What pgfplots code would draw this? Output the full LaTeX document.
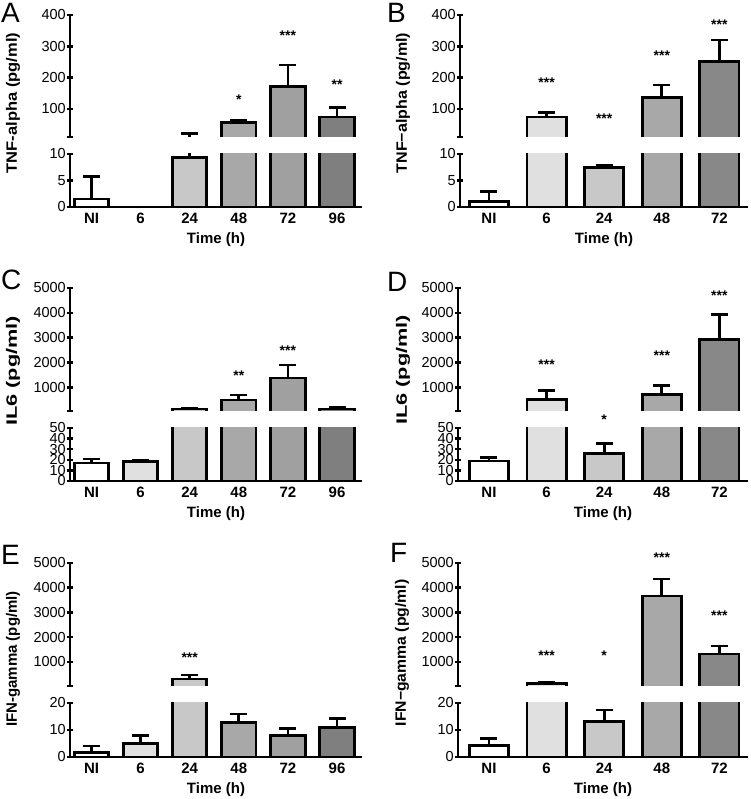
\documentclass[border=0pt]{standalone}
\usepackage{pgfplots}
\pgfplotsset{compat=1.18}
\usepackage{fontspec}
\setmainfont{Liberation Sans}
\newcommand\tk{\fontsize{14.5}{15}\selectfont}
\newcommand\xtk{\fontsize{15}{16}\selectfont\bfseries}
\newcommand\lett{\fontsize{28}{30}\selectfont}
\definecolor{c6}{HTML}{E0E0E0}
\definecolor{c24}{HTML}{C8C8C8}
\definecolor{c48}{HTML}{A8A8A8}
\definecolor{c72a}{HTML}{A0A0A0}
\definecolor{c72b}{HTML}{888888}
\definecolor{c96}{HTML}{7F7F7F}
\tikzset{sigstar/.style={font=\fontsize{14}{14}\selectfont\bfseries, inner sep=0pt, yshift=-3pt}}
\pgfplotsset{
  noarrows/.style={every outer x axis line/.append style={-},every outer y axis line/.append style={-},
    every inner x axis line/.append style={-},every inner y axis line/.append style={-},
    axis line style={line width=2.9pt,-}},
  seg/.style={scale only axis, ybar, bar shift=0pt, clip mode=individual, enlargelimits=false,
    tick align=outside, major tick length=6pt,
    ytick style={line width=2.5pt,black}, yticklabel style={font=\tk, inner sep=1pt},
    error bars/y dir=plus, error bars/y explicit, error bars/error mark=|,
    error bars/error bar style={draw=black, line width=2.8pt},
    error bars/error mark options={draw=black, line width=2.8pt, mark size=8.5pt}},
  upper/.style={seg, axis x line=none, axis y line=left, xtick=\empty, noarrows},
  lower/.style={seg, axis x line=bottom, axis y line=left, noarrows, xtick style={draw=none},
    xticklabel style={font=\xtk, inner sep=3pt}, xlabel={Time (h)},
    xlabel style={font=\xtk, at={(axis description cs:0.5,0)}, anchor=center, yshift=-33pt}},
  bar/.style={draw=black, line width=2.9pt, fill=#1},
  outl/.style={sharp plot, black, line width=2.9pt, line join=miter, mark=none},
}
% upper-segment bar: x, value, error, colour, left edge, right edge, segment bottom
\newcommand\ub[7]{%
  \addplot[fill=#4, draw=none] coordinates {(#1,#2) +- (0,#3)};
  \addplot[outl] coordinates {(#5,#7) (#5,#2) (#6,#2) (#6,#7)};
}
% ---------- data (lower segments) ----------
\newcommand\dataA{
  \addplot[bar=white] coordinates {(0,1.5) +- (0,4.3)};
  \addplot[bar=c24] coordinates {(2,9.4) +- (0,10.6)};
  \addplot[bar=c48] coordinates {(3,55) +- (0,9)};
  \addplot[bar=c72a] coordinates {(4,170) +- (0,70)};
  \addplot[bar=c96] coordinates {(5,74) +- (0,29)};
}
\newcommand\dataB{
  \addplot[bar=white] coordinates {(0,1.1) +- (0,1.8)};
  \addplot[bar=c6] coordinates {(1,74) +- (0,13)};
  \addplot[bar=c24] coordinates {(2,7.4) +- (0,0.5)};
  \addplot[bar=c48] coordinates {(3,135) +- (0,41)};
  \addplot[bar=c72b] coordinates {(4,250) +- (0,70)};
}
\newcommand\dataC{
  \addplot[bar=white] coordinates {(0,17) +- (0,3.8)};
  \addplot[bar=c6] coordinates {(1,18) +- (0,1.8)};
  \addplot[bar=c24] coordinates {(2,130) +- (0,27)};
  \addplot[bar=c48] coordinates {(3,493) +- (0,200)};
  \addplot[bar=c72a] coordinates {(4,1378) +- (0,523)};
  \addplot[bar=c96] coordinates {(5,130) +- (0,70)};
}
\newcommand\dataD{
  \addplot[bar=white] coordinates {(0,18.9) +- (0,3.5)};
  \addplot[bar=c6] coordinates {(1,521) +- (0,347)};
  \addplot[bar=c24] coordinates {(2,26) +- (0,9.5)};
  \addplot[bar=c48] coordinates {(3,721) +- (0,347)};
  \addplot[bar=c72b] coordinates {(4,2935) +- (0,1007)};
}
\newcommand\dataE{
  \addplot[bar=white] coordinates {(0,1.6) +- (0,2.5)};
  \addplot[bar=c6] coordinates {(1,5.1) +- (0,3)};
  \addplot[bar=c24] coordinates {(2,303) +- (0,162)};
  \addplot[bar=c48] coordinates {(3,12.7) +- (0,3.2)};
  \addplot[bar=c72a] coordinates {(4,7.8) +- (0,2.8)};
  \addplot[bar=c96] coordinates {(5,11) +- (0,3.3)};
}
\newcommand\dataF{
  \addplot[bar=white] coordinates {(0,4.1) +- (0,2.8)};
  \addplot[bar=c6] coordinates {(1,110) +- (0,60)};
  \addplot[bar=c24] coordinates {(2,13.1) +- (0,4.3)};
  \addplot[bar=c48] coordinates {(3,3664) +- (0,688)};
  \addplot[bar=c72b] coordinates {(4,1316) +- (0,323)};
}
\begin{document}
\begin{tikzpicture}[x=1pt,y=1pt]
\path[use as bounding box] (0pt,0pt) rectangle (750pt,799pt);
% ================= A =================
\begin{axis}[upper, at={(70pt,662pt)}, anchor=south west, width=292pt, height=122pt,
  xmin=-0.438, xmax=5.509, bar width=0.70, ymin=10, ymax=400,
  ytick={10,100,200,300,400}, yticklabels={{},100,200,300,400}]
  \addplot[outl] coordinates {(2,10) (2,20)};
  \addplot[outl] coordinates {(1.827,20) (2.173,20)};
  \ub{3}{55}{9}{c48}{2.65}{3.35}{10}
  \ub{4}{170}{70}{c72a}{3.65}{4.35}{10}
  \ub{5}{74}{29}{c96}{4.65}{5.35}{10}
  \node[sigstar] at (axis cs:3,138) {*};
  \node[sigstar] at (axis cs:4,342) {***};
  \node[sigstar] at (axis cs:5,186) {**};
\end{axis}
\begin{axis}[lower, at={(70pt,592pt)}, anchor=south west, width=292pt, height=53pt,
  xmin=-0.438, xmax=5.509, bar width=0.70, ymin=0, ymax=10,
  ytick={0,5,10}, yticklabels={0,5,10},
  xtick={0,...,5}, xticklabels={NI,6,24,48,72,96}]
  \dataA
\end{axis}
% ================= B =================
\begin{axis}[upper, at={(460pt,662pt)}, anchor=south west, width=288pt, height=122pt,
  xmin=-0.503, xmax=4.497, bar width=0.68, ymin=10, ymax=400,
  ytick={10,100,200,300,400}, yticklabels={{},100,200,300,400}]
  \ub{1}{74}{13}{c6}{0.66}{1.34}{10}
  \ub{3}{135}{41}{c48}{2.66}{3.34}{10}
  \ub{4}{250}{70}{c72b}{3.66}{4.34}{10}
  \node[sigstar] at (axis cs:1,192) {***};
  \node[sigstar] at (axis cs:2,77) {***};
  \node[sigstar] at (axis cs:3,279) {***};
  \node[sigstar] at (axis cs:4,378) {***};
\end{axis}
\begin{axis}[lower, at={(460pt,592pt)}, anchor=south west, width=288pt, height=53pt,
  xmin=-0.503, xmax=4.497, bar width=0.68, ymin=0, ymax=10,
  ytick={0,5,10}, yticklabels={0,5,10},
  xtick={0,...,4}, xticklabels={NI,6,24,48,72}]
  \dataB
\end{axis}
% ================= C =================
\begin{axis}[upper, at={(70pt,388pt)}, anchor=south west, width=292pt, height=123pt,
  xmin=-0.438, xmax=5.509, bar width=0.70, ymin=50, ymax=5000,
  ytick={50,1000,2000,3000,4000,5000}, yticklabels={{},1000,2000,3000,4000,5000}]
  \ub{2}{130}{27}{c24}{1.65}{2.35}{50}
  \ub{3}{493}{200}{c48}{2.65}{3.35}{50}
  \ub{4}{1378}{523}{c72a}{3.65}{4.35}{50}
  \ub{5}{130}{70}{c96}{4.65}{5.35}{50}
  \node[sigstar] at (axis cs:3,1579) {**};
  \node[sigstar] at (axis cs:4,2585) {***};
\end{axis}
\begin{axis}[lower, at={(70pt,318pt)}, anchor=south west, width=292pt, height=53pt,
  xmin=-0.438, xmax=5.509, bar width=0.70, ymin=0, ymax=50,
  ytick={0,10,20,30,40,50}, yticklabels={0,10,20,30,40,50},
  xtick={0,...,5}, xticklabels={NI,6,24,48,72,96}]
  \dataC
\end{axis}
% ================= D =================
\begin{axis}[upper, at={(458pt,388pt)}, anchor=south west, width=290pt, height=123pt,
  xmin=-0.538, xmax=4.497, bar width=0.68, ymin=50, ymax=5000,
  ytick={50,1000,2000,3000,4000,5000}, yticklabels={{},1000,2000,3000,4000,5000}]
  \ub{1}{521}{347}{c6}{0.66}{1.34}{50}
  \ub{3}{721}{347}{c48}{2.66}{3.34}{50}
  \ub{4}{2935}{1007}{c72b}{3.66}{4.34}{50}
  \node[sigstar] at (axis cs:1,2022) {***};
  \node[sigstar] at (axis cs:2,-191) {*};
  \node[sigstar] at (axis cs:3,2384) {***};
  \node[sigstar] at (axis cs:4,4799) {***};
\end{axis}
\begin{axis}[lower, at={(458pt,318pt)}, anchor=south west, width=290pt, height=53pt,
  xmin=-0.538, xmax=4.497, bar width=0.68, ymin=0, ymax=50,
  ytick={0,10,20,30,40,50}, yticklabels={0,10,20,30,40,50},
  xtick={0,...,4}, xticklabels={NI,6,24,48,72}]
  \dataD
\end{axis}
% ================= E =================
\begin{axis}[upper, at={(70pt,113pt)}, anchor=south west, width=292pt, height=123pt,
  xmin=-0.438, xmax=5.509, bar width=0.70, ymin=20, ymax=5000,
  ytick={20,1000,2000,3000,4000,5000}, yticklabels={{},1000,2000,3000,4000,5000}]
  \ub{2}{303}{162}{c24}{1.65}{2.35}{20}
  \node[sigstar] at (axis cs:2,1275) {***};
\end{axis}
\begin{axis}[lower, at={(70pt,42pt)}, anchor=south west, width=292pt, height=54pt,
  xmin=-0.438, xmax=5.509, bar width=0.70, ymin=0, ymax=20,
  ytick={0,10,20}, yticklabels={0,10,20},
  xtick={0,...,5}, xticklabels={NI,6,24,48,72,96}]
  \dataE
\end{axis}
% ================= F =================
\begin{axis}[upper, at={(458pt,113pt)}, anchor=south west, width=290pt, height=123pt,
  xmin=-0.538, xmax=4.497, bar width=0.68, ymin=20, ymax=5000,
  ytick={20,1000,2000,3000,4000,5000}, yticklabels={{},1000,2000,3000,4000,5000}]
  \ub{1}{110}{60}{c6}{0.66}{1.34}{20}
  \ub{3}{3664}{688}{c48}{2.66}{3.34}{20}
  \ub{4}{1316}{323}{c72b}{3.66}{4.34}{20}
  \node[sigstar] at (axis cs:1,1356) {***};
  \node[sigstar] at (axis cs:2,1356) {*};
  \node[sigstar] at (axis cs:3,5324) {***};
  \node[sigstar] at (axis cs:4,2976) {***};
\end{axis}
\begin{axis}[lower, at={(458pt,42pt)}, anchor=south west, width=290pt, height=54pt,
  xmin=-0.538, xmax=4.497, bar width=0.68, ymin=0, ymax=20,
  ytick={0,10,20}, yticklabels={0,10,20},
  xtick={0,...,4}, xticklabels={NI,6,24,48,72}]
  \dataF
\end{axis}
% ================= labels =================
\node[rotate=90, font=\xtk] at (13pt,696pt) {\scalebox{1.10}[1]{TNF-alpha (pg/ml)}};
\node[rotate=90, font=\xtk] at (403pt,696pt) {\scalebox{1.07}[1]{TNF−alpha (pg/ml)}};
\node[rotate=90, font=\xtk] at (13pt,428pt) {\scalebox{1.45}[1]{IL6 (pg/ml)}};
\node[rotate=90, font=\xtk] at (403pt,429pt) {\scalebox{1.45}[1]{IL6 (pg/ml)}};
\node[rotate=90, font=\xtk] at (13pt,140pt) {IFN-gamma (pg/ml)};
\node[rotate=90, font=\xtk] at (402pt,146pt) {\scalebox{1.05}[1]{IFN−gamma (pg/ml)}};
\node[anchor=base west, inner sep=0pt, font=\lett] at (1pt,776pt) {A};
\node[anchor=base west, inner sep=0pt, font=\lett] at (387pt,776pt) {B};
\node[anchor=base west, inner sep=0pt, font=\lett] at (1pt,509pt) {C};
\node[anchor=base west, inner sep=0pt, font=\lett] at (387pt,507pt) {D};
\node[anchor=base west, inner sep=0pt, font=\lett] at (1pt,234pt) {E};
\node[anchor=base west, inner sep=0pt, font=\lett] at (390pt,236pt) {F};
\end{tikzpicture}
\end{document}
